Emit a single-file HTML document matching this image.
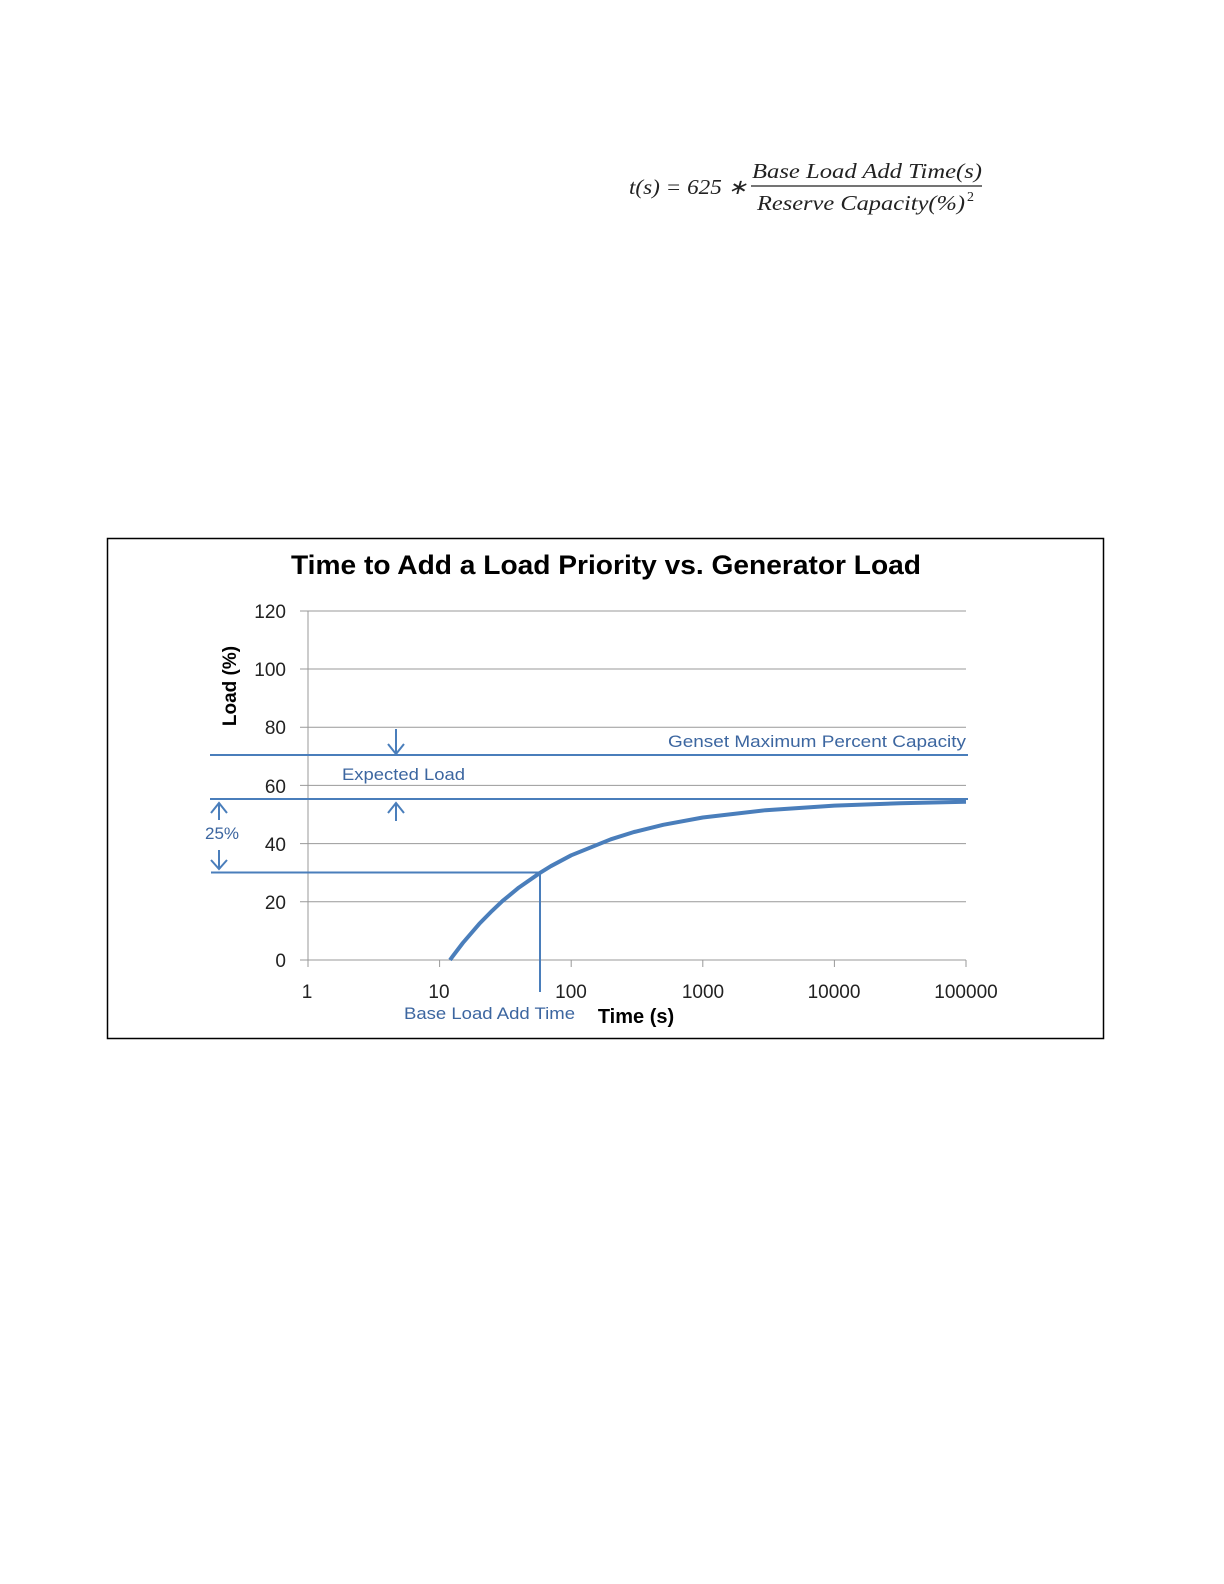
<!DOCTYPE html>
<html><head><style>html,body{margin:0;padding:0;background:#fff;overflow:hidden;width:1224px;height:1584px}svg{display:block}</style></head><body>
<svg width="1224" height="1584" viewBox="0 0 1224 1584" xmlns="http://www.w3.org/2000/svg">
<rect width="1224" height="1584" fill="#fff"/>
<g font-family="Liberation Serif, serif" font-style="italic" fill="#222">
<text x="629" y="194" font-size="21" textLength="118" lengthAdjust="spacingAndGlyphs">t(s) = 625 ∗</text>
<text x="752" y="178" font-size="21" textLength="230" lengthAdjust="spacingAndGlyphs">Base Load Add Time(s)</text>
<line x1="751" y1="186" x2="982" y2="186" stroke="#222" stroke-width="1.3"/>
<text x="757" y="210" font-size="21" textLength="208" lengthAdjust="spacingAndGlyphs">Reserve Capacity(%)</text>
<text x="967" y="201" font-size="14" font-style="normal">2</text>
</g>
<rect x="107.5" y="538.5" width="996" height="500" fill="#fff" stroke="#000" stroke-width="1.5"/>
<text x="606" y="574" font-family="Liberation Sans, sans-serif" font-size="27" font-weight="bold" text-anchor="middle" fill="#000" textLength="630" lengthAdjust="spacingAndGlyphs">Time to Add a Load Priority vs. Generator Load</text>
<g stroke="#999" stroke-width="1">
<line x1="300" y1="611" x2="966" y2="611"/><line x1="300" y1="669" x2="966" y2="669"/>
<line x1="300" y1="727.2" x2="966" y2="727.2"/><line x1="300" y1="785.4" x2="966" y2="785.4"/>
<line x1="300" y1="843.6" x2="966" y2="843.6"/><line x1="300" y1="901.8" x2="966" y2="901.8"/>
<line x1="300" y1="960" x2="966" y2="960"/>
<line x1="308" y1="611" x2="308" y2="967"/>
<line x1="439.6" y1="960" x2="439.6" y2="967"/><line x1="571.2" y1="960" x2="571.2" y2="967"/>
<line x1="702.8" y1="960" x2="702.8" y2="967"/><line x1="834.4" y1="960" x2="834.4" y2="967"/>
<line x1="966" y1="960" x2="966" y2="967"/>
</g>
<g font-family="Liberation Sans, sans-serif" font-size="19" fill="#222" text-anchor="end">
<text x="286" y="618">120</text><text x="286" y="676">100</text><text x="286" y="734">80</text>
<text x="286" y="793">60</text><text x="286" y="851">40</text><text x="286" y="909">20</text><text x="286" y="967">0</text>
</g>
<g font-family="Liberation Sans, sans-serif" font-size="19" fill="#222" text-anchor="middle">
<text x="307" y="998">1</text><text x="439" y="998">10</text><text x="571" y="998">100</text>
<text x="703" y="998">1000</text><text x="834" y="998">10000</text><text x="966" y="998">100000</text>
</g>
<text x="636" y="1023" font-family="Liberation Sans, sans-serif" font-size="20" font-weight="bold" text-anchor="middle" fill="#000">Time (s)</text>
<text transform="translate(236,686) rotate(-90)" font-family="Liberation Sans, sans-serif" font-size="19" font-weight="bold" text-anchor="middle" fill="#000">Load (%)</text>
<g stroke="#4a7ebb" stroke-width="2" fill="none">
<line x1="210" y1="755" x2="968" y2="755"/>
<line x1="210" y1="799" x2="968" y2="799"/>
<line x1="211" y1="872.5" x2="540" y2="872.5"/>
<line x1="540" y1="872.5" x2="540" y2="992"/>
<line x1="396" y1="729" x2="396" y2="754"/><polyline points="388,744 396,754 404,744"/>
<line x1="396" y1="821" x2="396" y2="803"/><polyline points="388,813 396,803 404,813"/>
<line x1="219" y1="820" x2="219" y2="803"/><polyline points="211,813 219,803 227,813"/>
<line x1="219" y1="850" x2="219" y2="869"/><polyline points="211,860 219,869 227,860"/>
</g>
<polyline fill="none" stroke="#4a7ebb" stroke-width="4" stroke-linejoin="round" points="450,960 452.4,956.7 462.8,943 479.2,923.9 492,910.9 502.4,901.1 518.8,887.6 540.1,872.8 550.8,866.2 571.2,855.3 610.8,839.3 634,832 663.2,824.8 702.8,817.5 765.6,810.2 834.4,805.6 900,803.3 966,801.8"/>
<g font-family="Liberation Sans, sans-serif" font-size="17" fill="#3c66a0">
<text x="966" y="747" text-anchor="end" textLength="298" lengthAdjust="spacingAndGlyphs">Genset Maximum Percent Capacity</text>
<text x="342" y="780" textLength="123" lengthAdjust="spacingAndGlyphs">Expected Load</text>
<text x="205" y="839">25%</text>
<text x="404" y="1019" textLength="171" lengthAdjust="spacingAndGlyphs">Base Load Add Time</text>
</g>
</svg>
</body></html>
